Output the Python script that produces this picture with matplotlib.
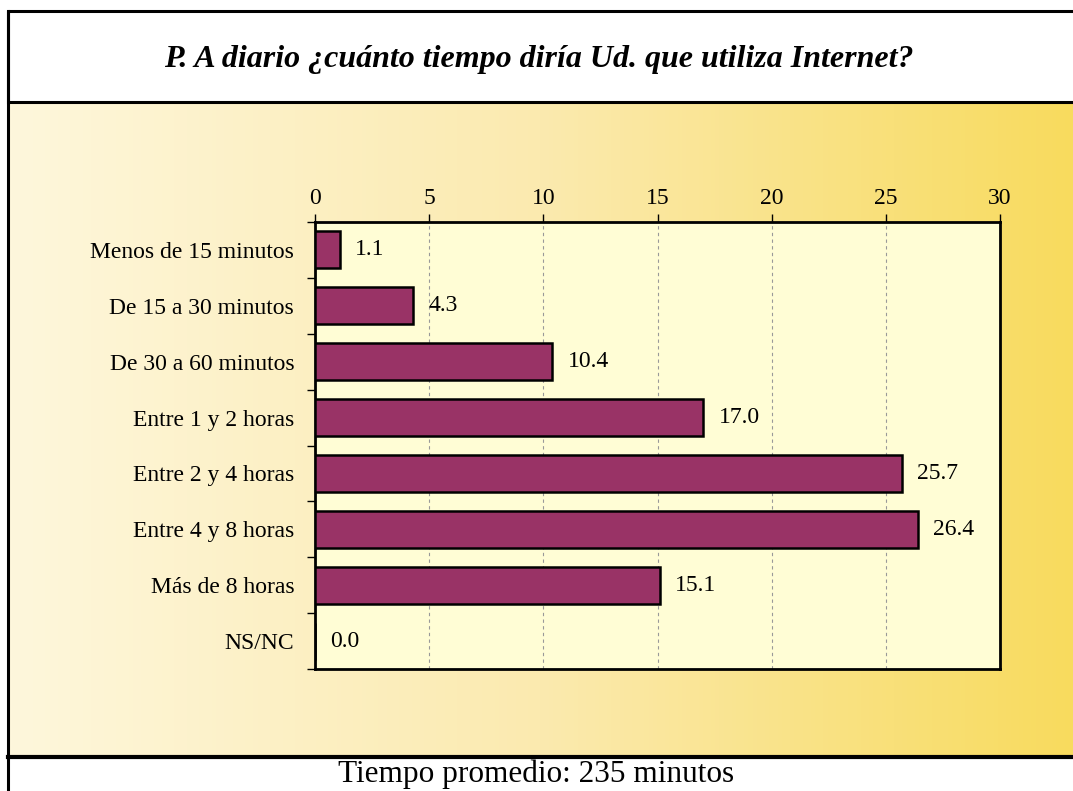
import matplotlib.pyplot as plt
import numpy as np
from matplotlib.colors import LinearSegmentedColormap
from matplotlib.patches import Rectangle

# Datos
categorias = [
    "Menos de 15 minutos",
    "De 15 a 30 minutos",
    "De 30 a 60 minutos",
    "Entre 1 y 2 horas",
    "Entre 2 y 4 horas",
    "Entre 4 y 8 horas",
    "Más de 8 horas",
    "NS/NC",
]
valores = [1.1, 4.3, 10.4, 17.0, 25.7, 26.4, 15.1, 0.0]
x_ticks = [0, 5, 10, 15, 20, 25, 30]

titulo = "P. A diario ¿cuánto tiempo diría Ud. que utiliza Internet?"
pie = "Tiempo promedio: 235 minutos"

W, H = 1073, 791
plt.rcParams["font.family"] = ["Liberation Serif", "DejaVu Serif"]

fig = plt.figure(figsize=(W / 100, H / 100), dpi=100)
fig.patch.set_facecolor("white")


def fx(px):
    return px / W


def fy(py):
    return 1 - py / H


# Fondo degradado
bg = fig.add_axes([fx(8), fy(757), 1 - fx(8), fy(102) - fy(757)])
cmap = LinearSegmentedColormap.from_list(
    "fondo", ["#FEF7DC", "#FBEAAF", "#F8DB5E"]
)
grad = np.linspace(0, 1, 256).reshape(1, -1)
bg.imshow(grad, aspect="auto", cmap=cmap, extent=[0, 1, 0, 1])
bg.set_axis_off()

# Marcos
marco = fig.add_axes([0, 0, 1, 1])
marco.set_xlim(0, W)
marco.set_ylim(H, 0)
marco.set_axis_off()
marco.patch.set_alpha(0)
marco.add_patch(Rectangle((8, 11), W + 10, 91, fill=False, lw=2.2, ec="black"))
marco.plot([8, 8], [11, H + 5], color="black", lw=2.2)
marco.plot([8, W + 5], [757, 757], color="black", lw=3)
marco.text(539, 60, titulo, ha="center", va="center", fontsize=23,
           fontweight="bold", fontstyle="italic")
marco.text(536, 774, pie, ha="center", va="center", fontsize=22.5)

# Gráfico de barras
ax = fig.add_axes([fx(315), fy(669), fx(1000) - fx(315), fy(222) - fy(669)])
ax.set_facecolor("#FFFDD5")
y = np.arange(len(categorias))
ax.barh(y, valores, height=0.66, color="#993366", edgecolor="black", lw=1.8,
        zorder=3)
for yi, v in zip(y, valores):
    ax.annotate(f"{v:.1f}", (v, yi), xytext=(11, 0), textcoords="offset points",
                ha="left", va="center", fontsize=17, zorder=4)

ax.set_xlim(0, 30)
ax.set_ylim(len(categorias) - 0.5, -0.5)
ax.set_xticks(x_ticks)
ax.xaxis.tick_top()
ax.tick_params(axis="x", direction="out", length=6, width=1, labelsize=17,
               pad=3)
ax.set_yticks(y)
ax.set_yticklabels(categorias)
ax.tick_params(axis="y", length=0, labelsize=17, pad=15)
ax.set_yticks(np.arange(-0.5, len(categorias)), minor=True)
ax.tick_params(axis="y", which="minor", direction="out", length=6, width=1)
ax.grid(axis="x", linestyle=(0, (3, 3)), color="#999999", lw=0.8, zorder=1)
for s in ax.spines.values():
    s.set_linewidth(2)

fig.savefig("out.png", dpi=100)
